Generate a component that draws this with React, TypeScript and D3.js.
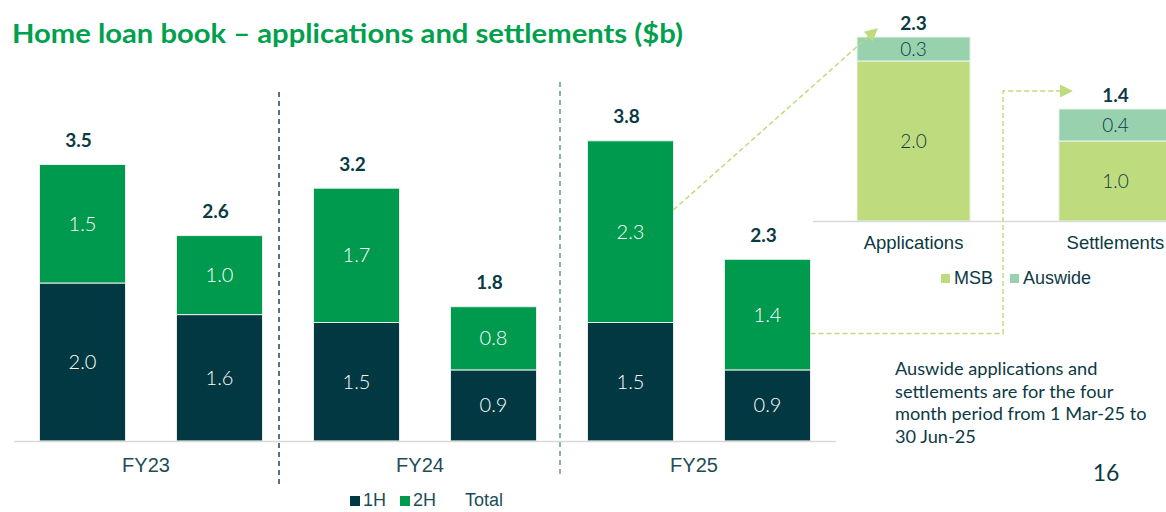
import React from "react";
import * as d3 from "d3";

const categories = ["FY23", "FY24", "FY25"];
const seriesNames = ["Applications", "Settlements"];
const appsH1 = [2.0, 1.5, 1.5];
const appsH2 = [1.5, 1.7, 2.3];
const appsTotal = [3.5, 3.2, 3.8];
const settleH1 = [1.6, 0.9, 0.9];
const settleH2 = [1.0, 0.8, 1.4];
const settleTotal = [2.6, 1.8, 2.3];
const legendMain = ["1H", "2H", "Total"];

const rightCategories = ["Applications", "Settlements"];
const msbValues = [2.0, 1.0];
const auswideValues = [0.3, 0.4];
const rightTotals = [2.3, 1.4];
const legendRight = ["MSB", "Auswide"];

const titleText = "Home loan book \u2013 applications and settlements ($b)";
const noteLines = [
  "Auswide applications and",
  "settlements are for the four",
  "month period from 1 Mar-25 to",
  "30 Jun-25",
];
const pageNumber = "16";

const C = {
  h1: "#023842",
  h2: "#009a4e",
  msb: "#bedc7e",
  aus: "#98d1ae",
  title: "#00a04d",
  dark: "#0b3a44",
  axisText: "#1f4d57",
  base: "#d9d9d9",
  arrow: "#bedc7e",
};

const GEO = "Lato, 'Noto Sans', sans-serif";
const ARIAL = "'Liberation Sans', Arial, sans-serif";

export default function App() {
  const W = 1166;
  const H = 512;

  const x0 = d3.scaleBand<string>().domain(categories).range([14, 836]).padding(0);
  const x1 = d3
    .scaleBand<string>()
    .domain(seriesNames)
    .range([0, x0.bandwidth()])
    .paddingInner(0.372)
    .paddingOuter(0.186);
  const y = d3.scaleLinear().domain([0, 4]).range([441, 441 - 316]);

  const xr = d3
    .scaleBand<string>()
    .domain(rightCategories)
    .range([813, 1216])
    .paddingInner(0.44)
    .paddingOuter(0.218);
  const yr = d3.scaleLinear().domain([0, 2.5]).range([221, 21]);

  const mainRows = categories.flatMap((cat, i) => [
    { cat, s: "Applications", h1: appsH1[i], h2: appsH2[i], total: appsTotal[i] },
    { cat, s: "Settlements", h1: settleH1[i], h2: settleH2[i], total: settleTotal[i] },
  ]);

  const bw = x1.bandwidth();
  const fy25Apps = mainRows[4];
  const fy25Set = mainRows[5];
  const rbw = xr.bandwidth();

  const a1x0 = (x0("FY25") as number) + (x1("Applications") as number) + bw;
  const a1y0 = y(fy25Apps.h1 + fy25Apps.h2 * 0.62);
  const a1x1 = (xr("Applications") as number) + 21;
  const a1y1 = yr(rightTotals[0]) - 9;

  const a2x0 = (x0("FY25") as number) + (x1("Settlements") as number) + bw;
  const a2y0 = y(fy25Set.h1 + fy25Set.h2 * 0.33);
  const a2xm = (xr("Applications") as number) + rbw + 33;
  const a2y1 = yr(rightTotals[1]) - 18;
  const a2x1 = (xr("Settlements") as number) + 14;

  const dividerXs = [279, 560];
  const dividerTops = [92, 82];
  const dividerBottoms = [488, 474];
  const dividerColors = ["#1e4652", "#6e9397"];

  const ang1 = Math.atan2(a1y1 - a1y0, a1x1 - a1x0);
  const head = (x: number, yy: number, ang: number) => {
    const L = 13, Wd = 6.5;
    const bx = x - L * Math.cos(ang);
    const by = yy - L * Math.sin(ang);
    const px = -Math.sin(ang) * Wd;
    const py = Math.cos(ang) * Wd;
    return `M${x},${yy}L${bx + px},${by + py}L${bx - px},${by - py}Z`;
  };

  return (
    <svg
      width={W}
      height={H}
      style={{ position: "absolute", left: 0, top: 0, background: "#fff" }}
    >
      <text
        x={12}
        y={43}
        fontFamily={GEO}
        fontWeight={700}
        fontSize={26}
        fill={C.title}
        textLength={671}
        lengthAdjust="spacingAndGlyphs"
      >
        {titleText}
      </text>

      {dividerXs.map((dx, i) => (
        <line
          key={"d" + i}
          x1={dx}
          x2={dx}
          y1={dividerTops[i]}
          y2={dividerBottoms[i]}
          stroke={dividerColors[i]}
          strokeWidth={1.5}
          strokeDasharray="5,4"
        />
      ))}

      {mainRows.map((r, i) => {
        const bx = (x0(r.cat) as number) + (x1(r.s) as number);
        const cx = bx + bw / 2;
        return (
          <g key={"b" + i}>
            <rect x={bx} y={y(r.h1)} width={bw} height={y(0) - y(r.h1)} fill={C.h1} stroke="#e6efe9" strokeWidth={1} />
            <rect
              x={bx}
              y={y(r.h1 + r.h2)}
              width={bw}
              height={y(r.h1) - y(r.h1 + r.h2)}
              fill={C.h2}
              stroke="#e6efe9"
              strokeWidth={1}
            />
            <text x={cx} y={(y(0) + y(r.h1)) / 2} dy="0.35em" textAnchor="middle" fill="#fff" fontFamily={GEO} fontWeight={300} fontSize={20}>
              {r.h1.toFixed(1)}
            </text>
            <text
              x={cx}
              y={(y(r.h1) + y(r.h1 + r.h2)) / 2}
              dy="0.35em"
              textAnchor="middle"
              fill="#fff"
              fontFamily={GEO}
              fontWeight={300}
              fontSize={20}
            >
              {r.h2.toFixed(1)}
            </text>
            <text x={cx - 4} y={y(r.h1 + r.h2) - 24} dy="0.35em" textAnchor="middle" fill={C.dark} fontFamily={GEO} fontWeight={700} fontSize={19}>
              {r.total.toFixed(1)}
            </text>
          </g>
        );
      })}

      <line x1={14} x2={836} y1={y(0) + 0.5} y2={y(0) + 0.5} stroke={C.base} strokeWidth={1.5} />

      {categories.map((c) => (
        <text
          key={c}
          x={(x0(c) as number) + x0.bandwidth() / 2 - 5}
          y={465}
          dy="0.35em"
          textAnchor="middle"
          fill={C.axisText}
          fontFamily={ARIAL}
          fontSize={20}
        >
          {c}
        </text>
      ))}

      <g fontFamily={ARIAL} fontSize={18} fill={C.axisText}>
        <rect x={350} y={496} width={10} height={10} fill={C.h1} />
        <text x={363} y={500} dy="0.35em">{legendMain[0]}</text>
        <rect x={400} y={496} width={10} height={10} fill={C.h2} />
        <text x={413} y={500} dy="0.35em">{legendMain[1]}</text>
        <text x={465} y={500} dy="0.35em">{legendMain[2]}</text>
      </g>

      {rightCategories.map((c, i) => {
        const bx = xr(c) as number;
        const cx = bx + rbw / 2;
        const m = msbValues[i];
        const a = auswideValues[i];
        return (
          <g key={"r" + i}>
            <rect x={bx} y={yr(m)} width={rbw} height={yr(0) - yr(m)} fill={C.msb} stroke="#eef4ea" strokeWidth={1} />
            <rect x={bx} y={yr(m + a)} width={rbw} height={yr(m) - yr(m + a)} fill={C.aus} stroke="#eef4ea" strokeWidth={1} />
            <text x={cx} y={(yr(0) + yr(m)) / 2} dy="0.35em" textAnchor="middle" fill={C.dark} fontFamily={GEO} fontWeight={300} fontSize={19}>
              {m.toFixed(1)}
            </text>
            <text x={cx} y={(yr(m) + yr(m + a)) / 2} dy="0.35em" textAnchor="middle" fill={C.dark} fontFamily={GEO} fontWeight={300} fontSize={19}>
              {a.toFixed(1)}
            </text>
            <text x={cx} y={yr(m + a) - 14} dy="0.35em" textAnchor="middle" fill={C.dark} fontFamily={GEO} fontWeight={700} fontSize={19}>
              {rightTotals[i].toFixed(1)}
            </text>
            <text x={cx} y={243} dy="0.35em" textAnchor="middle" fill={C.dark} fontFamily={ARIAL} fontSize={18.5}>
              {c}
            </text>
          </g>
        );
      })}
      <line x1={813} x2={W} y1={yr(0) + 0.5} y2={yr(0) + 0.5} stroke={C.base} strokeWidth={1.5} />

      <g fontFamily={ARIAL} fontSize={18} fill={C.dark}>
        <rect x={941} y={274} width={9} height={9} fill={C.msb} />
        <text x={954} y={278} dy="0.35em">{legendRight[0]}</text>
        <rect x={1010} y={274} width={9} height={9} fill={C.aus} />
        <text x={1023} y={278} dy="0.35em">{legendRight[1]}</text>
      </g>

      <line x1={a1x0} y1={a1y0} x2={a1x1 - 10 * Math.cos(ang1)} y2={a1y1 - 10 * Math.sin(ang1)} stroke={C.arrow} strokeWidth={1.5} strokeDasharray="5,3" />
      <path d={head(a1x1, a1y1, ang1)} fill={C.arrow} />
      <polyline
        points={`${a2x0},${a2y0} ${a2xm},${a2y0} ${a2xm},${a2y1} ${a2x1 - 10},${a2y1}`}
        fill="none"
        stroke={C.arrow}
        strokeWidth={1.5}
        strokeDasharray="5,3"
      />
      <path d={head(a2x1, a2y1, 0)} fill={C.arrow} />

      <g fontFamily={GEO} fontSize={18.2} fill={C.dark}>
        {noteLines.map((l, i) => (
          <text key={"n" + i} x={895} y={369 + i * 22.5} dy="0.35em">
            {l}
          </text>
        ))}
      </g>
      <text x={1106} y={473} dy="0.35em" textAnchor="middle" fontFamily={GEO} fontSize={23} fill={C.dark}>
        {pageNumber}
      </text>
    </svg>
  );
}
